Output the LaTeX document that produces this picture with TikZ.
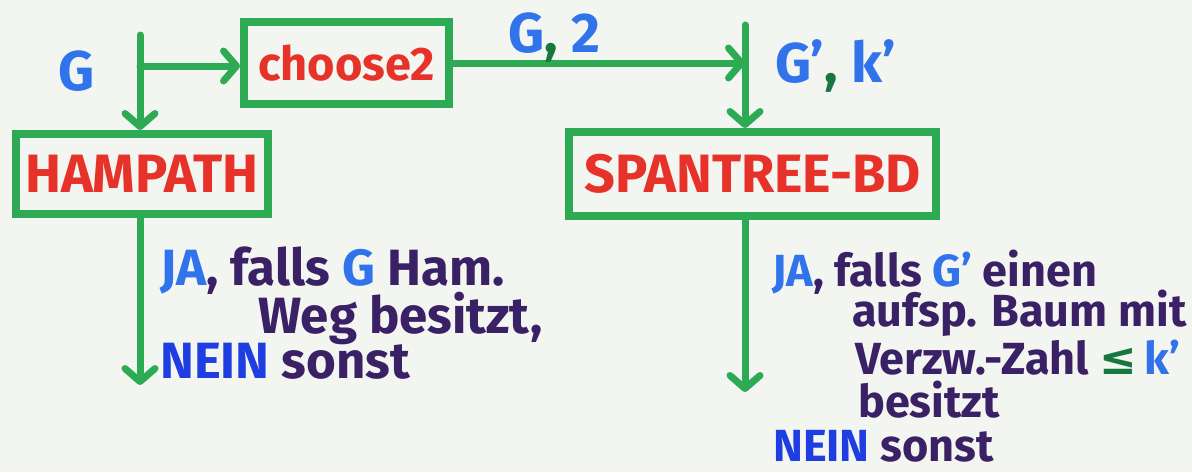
\documentclass[tikz,border=0pt]{standalone}
\usepackage{fontspec}
\setmainfont{Fira Sans}
\newfontfamily\symfont{DejaVu Sans}
\usetikzlibrary{arrows.meta}
\definecolor{board}{RGB}{243,245,241}
\definecolor{mgreen}{RGB}{44,170,84}
\definecolor{dgreen}{RGB}{22,120,62}
\definecolor{mred}{RGB}{230,50,40}
\definecolor{mblue}{RGB}{48,115,235}
\definecolor{dblue}{RGB}{30,62,225}
\definecolor{mpurple}{RGB}{58,32,100}
\begin{document}
\begin{tikzpicture}[x=1pt,y=-1pt,
  box/.style={draw=mgreen, line width=8pt, inner sep=0pt, text=mred,
    font=\fontsize{54}{60}\selectfont\bfseries},
  flow/.style={draw=mgreen, line width=7pt, line cap=round,
    -{Straight Barb[length=13pt,width=30pt,round]}},
  lbl/.style={inner sep=0pt, anchor=base west, text=mblue,
    font=\fontsize{56}{60}\selectfont\bfseries},
  body/.style={inner sep=0pt, anchor=base west, text=mpurple,
    font=\fontsize{45}{50}\selectfont\bfseries},
  bodyL/.style={body, font=\fontsize{51}{56}\selectfont\bfseries}]
\fill[board] (0,0) rectangle (1192,472);
\useasboundingbox (0,0) rectangle (1192,472);

% boxes
\node[box, minimum width=205pt, minimum height=82pt,
  font=\fontsize{47}{52}\selectfont\bfseries] (choose) at (346.5,63) {choose2};
\node[box, minimum width=252pt, minimum height=80pt] (ham) at (142,174) {HAMPATH};
\node[box, minimum width=367pt, minimum height=84pt] (span) at (752.5,174) {SPANTREE-BD};

% coordinates
\coordinate (in1) at (140,35);
\coordinate (j1) at (140,66);
\coordinate (in2) at (745,25);
\coordinate (j2) at (745,63);
\coordinate (out1) at (140,385);
\coordinate (out2) at (745,392);

% connectors
\draw[flow] (in1) -- (in1 |- ham.north);
\draw[flow] (j1) -- (j1 -| choose.west);
\draw[flow] (choose.east |- j2) -- (j2);
\draw[flow] (in2) -- (in2 |- span.north);
\draw[flow] (out1 |- ham.south) -- (out1);
\draw[flow] (out2 |- span.south) -- (out2);

% labels
\node[lbl] (lg) at (58,90) {G};
\node[lbl] (lg2) at (508,52) {G\textcolor{dgreen}{,} 2};
\node[lbl] (lgk) at (775,82) {G'\textcolor{dgreen}{,} k'};

% left output text
\node[bodyL] (l1) at (160,285) {\textcolor{mblue}{JA}, falls \textcolor{mblue}{G} Ham.};
\node[bodyL] (l2) at (258,333) {Weg besitzt,};
\node[bodyL] (l3) at (160,378) {\textcolor{dblue}{NEIN} sonst};

% right output text
\node[body] (r1) at (772,286) {\textcolor{mblue}{JA}, falls \textcolor{mblue}{G'} einen};
\node[body] (r2) at (852,326) {aufsp. Baum mit};
\node[body] (r3) at (855,374) {Verzw.-Zahl \textcolor{dgreen}{\symfont ≤}\,\textcolor{mblue}{k'}};
\node[body] (r4) at (858,417) {besitzt};
\node[body] (r5) at (773,461) {\textcolor{dblue}{NEIN} sonst};
\end{tikzpicture}
\end{document}
